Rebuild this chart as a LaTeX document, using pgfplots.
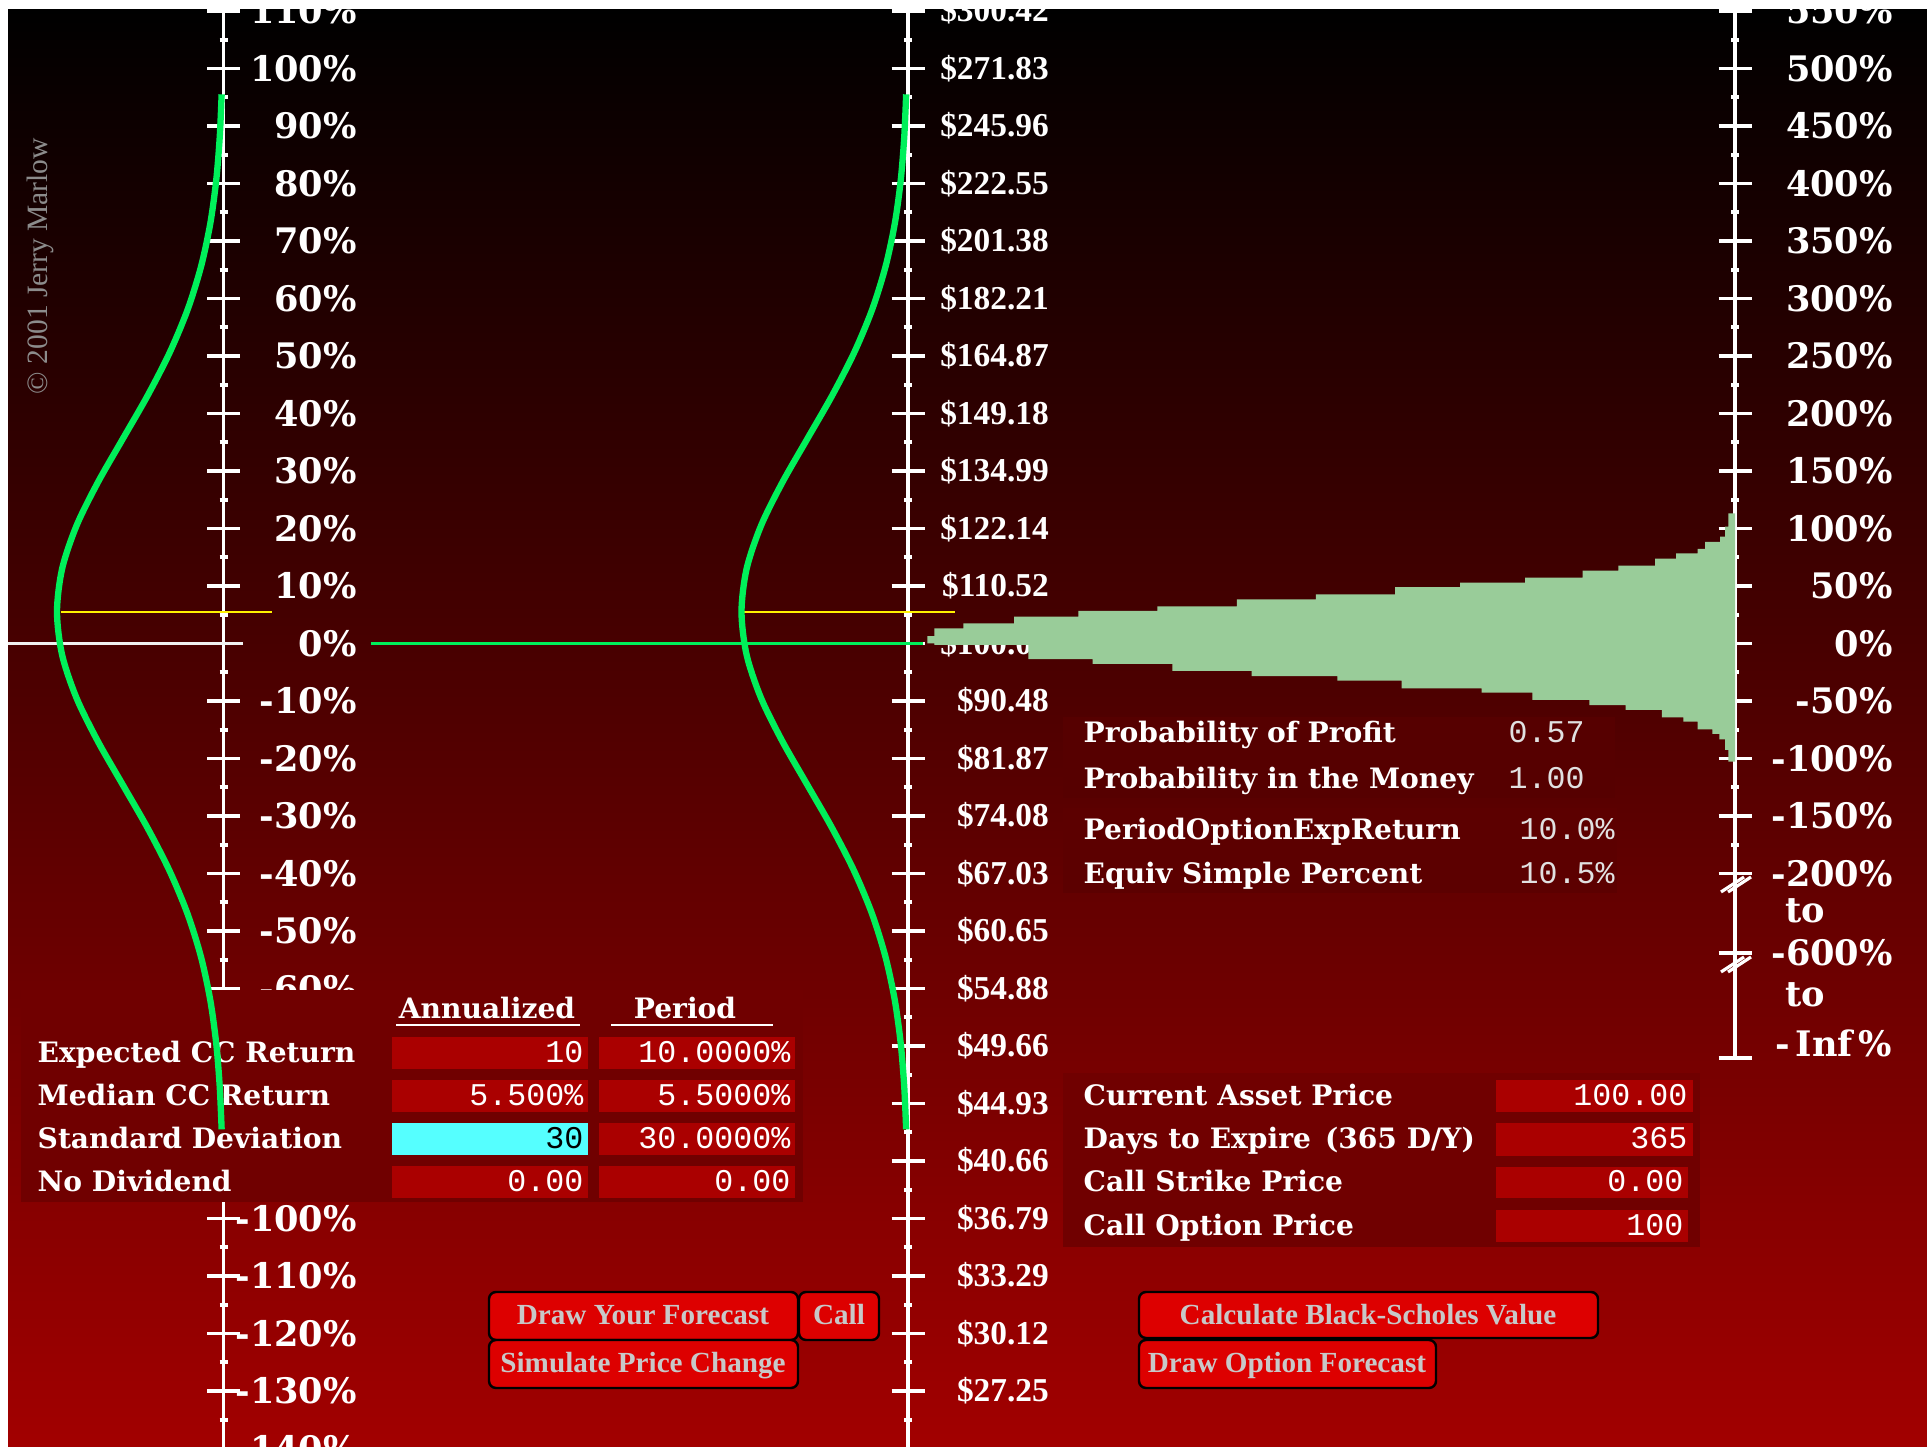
\documentclass[border=0pt]{standalone}
\usepackage{pgfplots}
\usepackage{pgfplotstable}
\pgfplotsset{compat=1.18}
\usepackage{fontspec}
\setmainfont{DejaVu Serif}
\newfontfamily\libserif{Liberation Serif}
\newfontfamily\libmono{Liberation Mono}

\definecolor{bgbot}{RGB}{162,0,0}
\definecolor{panel}{RGB}{112,0,0}
\definecolor{panelA}{RGB}{86,0,0}
\definecolor{panelB}{RGB}{92,0,0}
\definecolor{valbox}{RGB}{170,0,0}
\definecolor{cyanbox}{RGB}{85,255,255}
\definecolor{curvegreen}{RGB}{0,240,90}
\definecolor{hist}{RGB}{153,204,153}
\definecolor{btn}{RGB}{221,0,0}
\definecolor{btntext}{RGB}{200,200,200}
\definecolor{copygray}{RGB}{140,140,140}
\definecolor{valtext}{RGB}{225,225,225}

\newcommand{\tkfont}{\fontsize{10}{12}\selectfont\bfseries}
\newcommand{\midfont}{\libserif\bfseries\fontsize{9.5}{11.4}\selectfont}
\newcommand{\lbfont}{\fontsize{8}{9.6}\selectfont\bfseries}
\newcommand{\valfont}{\libmono\fontsize{9}{10.8}\selectfont}
\newcommand{\btnfont}{\libserif\bfseries\fontsize{8.3}{10}\selectfont}

% relative density of the CC-return distribution (median 5.5%, sd 30%)
\pgfplotstableread{
r d
-84.5 0.01111
-77.0 0.02279
-69.5 0.04394
-62.0 0.07956
-54.5 0.13534
-47.0 0.21627
-39.5 0.32465
-32.0 0.45783
-24.5 0.60653
-17.0 0.75484
-9.5 0.88250
-2.0 0.96923
5.5 1.00000
13.0 0.96923
20.5 0.88250
28.0 0.75484
35.5 0.60653
43.0 0.45783
50.5 0.32465
58.0 0.21627
65.5 0.13534
73.0 0.07956
80.5 0.04394
88.0 0.02279
95.5 0.01111
}\dens

% option return forecast band: outline (upper edge left to right, lower edge back)
\pgfplotstableread{
p v
0.0233 6.5
0.0318 6.5
0.0318 13.2
0.0669 13.2
0.0669 17.5
0.1282 17.5
0.1282 23.3
0.2059 23.3
0.2059 28.3
0.3015 28.3
0.3015 32.3
0.3975 32.3
0.3975 38.4
0.4933 38.4
0.4933 42.8
0.5889 42.8
0.5889 48.9
0.6675 48.9
0.6675 52.9
0.7461 52.9
0.7461 57.2
0.8158 57.2
0.8158 63.3
0.8589 63.3
0.8589 67.7
0.9033 67.7
0.9033 73.8
0.9287 73.8
0.9287 78.4
0.9549 78.4
0.9549 82.2
0.9637 82.2
0.9637 88.3
0.9819 88.3
0.9819 92.9
0.9879 92.9
0.9879 101.6
0.9919 101.6
0.9919 113.2
1.0000 113.2
1.0000 -102.8
0.9919 -102.8
0.9919 -92.6
0.9879 -92.6
0.9879 -83.3
0.9810 -83.3
0.9810 -78.7
0.9725 -78.7
0.9725 -74.6
0.9549 -74.6
0.9549 -68.0
0.9375 -68.0
0.9375 -64.2
0.9114 -64.2
0.9114 -57.8
0.8678 -57.8
0.8678 -53.5
0.8238 -53.5
0.8238 -49.1
0.7549 -49.1
0.7549 -42.8
0.6937 -42.8
0.6937 -39.0
0.5970 -39.0
0.5970 -32.3
0.5191 -32.3
0.5191 -28.3
0.4156 -28.3
0.4156 -23.9
0.3196 -23.9
0.3196 -17.8
0.2233 -17.8
0.2233 -13.5
0.1455 -13.5
0.1455 -1.3
0.0318 -1.3
0.0318 0.0
0.0233 0.0
}\band

\pgfplotsset{
  fullpic/.style={at={(0cm,14.47cm)}, anchor=north west, scale only axis, width=19.27cm, clip=false},
  pix/.style={fullpic, height=14.47cm, xmin=0, xmax=1927, ymin=0, ymax=1447, y dir=reverse, hide axis},
  retax/.style={fullpic, height=14.5425cm, ymin=-141, ymax=111.913},
  leftax/.style={retax, xmin=-1.34234, xmax=10.23123},
  midax/.style={retax, xmin=-5.45345, xmax=6.12012},
  rightax/.style={fullpic, height=10.5865cm, ymin=-361, ymax=559.565, xmin=-2.09794, xmax=0.23216},
  ticked/.style={axis x line=none, axis y line=middle,
     axis line style={-, white, line width=1.1pt},
     tick align=center, major tick length=0.33cm, minor tick length=0.08cm,
     tick style={white, line width=1.1pt},
     yticklabel style={anchor=east, inner sep=0pt, text=white}},
}

\newcommand{\rowlabel}[3]{\node[anchor=base west, inner sep=0pt, text=white, font=\lbfont] at (axis cs:#1,#2) {#3};}
\newcommand{\valR}[3]{\node[anchor=base east, inner sep=0pt, text=white, font=\valfont] at (axis cs:#1,#2) {#3};}
\newcommand{\valL}[3]{\node[anchor=base west, inner sep=0pt, text=valtext, font=\valfont] at (axis cs:#1,#2) {#3};}
\newcommand{\valbg}[4]{\fill[valbox] (axis cs:#1,#2) rectangle (axis cs:#3,#4);}
\newcommand{\button}[7]{%
  \draw[black, line width=0.7pt, fill=btn, rounded corners=0.07cm] (axis cs:#1,#2) rectangle (axis cs:#3,#4);
  \node[anchor=base, text=btntext, font=\btnfont] at (axis cs:#5,#6) {#7};}

\begin{document}
\begin{tikzpicture}
\useasboundingbox (0,0) rectangle (19.27,14.47);
\clip (0,0) rectangle (19.27,14.47);
\shade[top color=black, bottom color=bgbot] (0,0) rectangle (19.27,14.38);

% left axis: continuously compounded return (labels -70..-90 lie under the input panel)
\begin{axis}[leftax, ticked,
  ytick={-140,-130,...,110}, minor ytick={-135,-125,...,105},
  yticklabels={-140\%,-130\%,-120\%,-110\%,-100\%,{},{},{},-60\%,-50\%,-40\%,-30\%,-20\%,-10\%,0\%,10\%,20\%,30\%,40\%,50\%,60\%,70\%,80\%,90\%,100\%,110\%},
  yticklabel style={xshift=1.505cm, font=\tkfont}]
\end{axis}

% middle axis: price
\begin{axis}[midax, ticked,
  ytick={-130,-120,...,110}, minor ytick={-135,-125,...,105},
  yticklabels={\$27.25,\$30.12,\$33.29,\$36.79,\$40.66,\$44.93,\$49.66,\$54.88,\$60.65,\$67.03,\$74.08,\$81.87,\$90.48,\$100.00,\$110.52,\$122.14,\$134.99,\$149.18,\$164.87,\$182.21,\$201.38,\$222.55,\$245.96,\$271.83,\$300.42},
  yticklabel style={xshift=1.58cm, font=\midfont}]
\end{axis}

% right axis: option return
\begin{axis}[rightax, ticked,
  ytick={-200,-150,...,550}, minor ytick={-175,-125,...,525},
  yticklabels={-200\%,-150\%,-100\%,-50\%,0\%,50\%,100\%,150\%,200\%,250\%,300\%,350\%,400\%,450\%,500\%,550\%},
  extra y ticks={-269.13,-360.4},
  extra y tick labels={-600\%,{}},
  yticklabel style={xshift=1.75cm, font=\tkfont}]
\end{axis}

% panels, texts, buttons
\begin{axis}[pix]
\fill[panel] (axis cs:21,990) rectangle (axis cs:803,1202);
\node[anchor=base, inner sep=0pt, text=white, font=\lbfont] at (axis cs:487,1019) {Annualized};
\draw[white, line width=0.7pt] (axis cs:396,1025) -- (axis cs:580,1025);
\node[anchor=base, inner sep=0pt, text=white, font=\lbfont] at (axis cs:685,1019) {Period};
\draw[white, line width=0.7pt] (axis cs:611,1025) -- (axis cs:773,1025);
\valbg{392}{1037}{588}{1069}\valbg{599}{1037}{795}{1069}
\valbg{392}{1080}{588}{1112}\valbg{599}{1080}{795}{1112}
\fill[cyanbox] (axis cs:392,1123) rectangle (axis cs:588,1155);
\valbg{599}{1123}{795}{1155}
\valbg{392}{1166}{588}{1198}\valbg{599}{1166}{795}{1198}
\rowlabel{37}{1063}{Expected CC Return}
\rowlabel{37}{1106}{Median CC Return}
\rowlabel{37}{1149}{Standard Deviation}
\rowlabel{37}{1192}{No Dividend}
\valR{584}{1063}{10}\valR{791}{1063}{10.0000\%}
\valR{584}{1106}{5.500\%}\valR{791}{1106}{5.5000\%}
\node[anchor=base east, inner sep=0pt, text=black, font=\valfont] at (axis cs:584,1149) {30};
\valR{791}{1149}{30.0000\%}
\valR{584}{1192}{0.00}\valR{791}{1192}{0.00}

% probability panel
\fill[panelA] (axis cs:1063,717) rectangle (axis cs:1615,798);
\fill[panelB] (axis cs:1063,808) rectangle (axis cs:1617,893);
\rowlabel{1083}{743}{Probability of Profit}
\rowlabel{1083}{789}{Probability in the Money}
\rowlabel{1083}{840}{PeriodOptionExpReturn}
\rowlabel{1083}{884}{Equiv Simple Percent}
\valL{1508}{743}{0.57}
\valL{1508}{789}{1.00}
\valL{1519}{840}{10.0\%}
\valL{1519}{884}{10.5\%}

% asset panel
\fill[panel] (axis cs:1063,1073) rectangle (axis cs:1700,1247);
\valbg{1496}{1080}{1693}{1112}
\valbg{1496}{1123}{1693}{1156}
\valbg{1496}{1167}{1688}{1198}
\valbg{1496}{1210}{1688}{1242}
\rowlabel{1083}{1106}{Current Asset Price}
\rowlabel{1083}{1149}{Days to Expire\enspace(365 D/Y)}
\rowlabel{1083}{1192}{Call Strike Price}
\rowlabel{1083}{1236}{Call Option Price}
\valR{1688}{1106}{100.00}
\valR{1688}{1149}{365}
\valR{1684}{1192}{0.00}
\valR{1684}{1236}{100}

% buttons
\button{489}{1292}{798}{1340}{643}{1325}{Draw Your Forecast}
\button{799}{1292}{879}{1340}{839}{1325}{Call}
\button{489}{1340}{798}{1388}{643}{1373}{Simulate Price Change}
\button{1139}{1292}{1598}{1338}{1368}{1325}{Calculate Black-Scholes Value}
\button{1139}{1340}{1436}{1388}{1287}{1373}{Draw Option Forecast}

% right axis break and lower labels
\draw[white, line width=0.9pt] (axis cs:1721,892) -- (axis cs:1744,877);
\draw[white, line width=0.9pt] (axis cs:1728,892) -- (axis cs:1751,877);
\draw[white, line width=0.9pt] (axis cs:1721,972) -- (axis cs:1744,957);
\draw[white, line width=0.9pt] (axis cs:1728,972) -- (axis cs:1751,957);
\node[text=white, font=\tkfont] at (axis cs:1805,911) {to};
\node[text=white, font=\tkfont] at (axis cs:1805,995) {to};
\node[anchor=east, text=white, font=\tkfont, inner sep=0pt] at (axis cs:1893,1043) {-\,Inf\,\%};

% copyright
\node[rotate=90, text=copygray, font=\libserif\fontsize{8.4}{10}\selectfont] at (axis cs:40,266) {© 2001 Jerry Marlow};
\end{axis}

% left distribution
\begin{axis}[leftax, hide axis]
\addplot[white!88!gray, line width=0.9pt] coordinates {(-1.34,0) (0.117,0)};
\addplot[yellow, line width=0.6pt] coordinates {(-0.976,5.5) (0.291,5.5)};
\addplot[curvegreen, line width=1.8pt, smooth] table[x expr=-\thisrow{d}, y=r] {\dens};
\end{axis}

% middle distribution
\begin{axis}[midax, hide axis]
\addplot[curvegreen, line width=0.9pt] coordinates {(-3.225,0) (0.09,0)};
\addplot[yellow, line width=0.6pt] coordinates {(-1.003,5.5) (0.282,5.5)};
\addplot[curvegreen, line width=1.8pt, smooth] table[x expr=-\thisrow{d}, y=r] {\dens};
\end{axis}

% option forecast band
\begin{axis}[rightax, hide axis]
\addplot[fill=hist, draw=none] table[x expr=\thisrow{p}-1, y=v] {\band} -- cycle;
\end{axis}

\fill[white] (0,14.38) rectangle (19.27,14.47);
\fill[white] (0,0) rectangle (0.08,14.47);
\end{tikzpicture}
\end{document}
